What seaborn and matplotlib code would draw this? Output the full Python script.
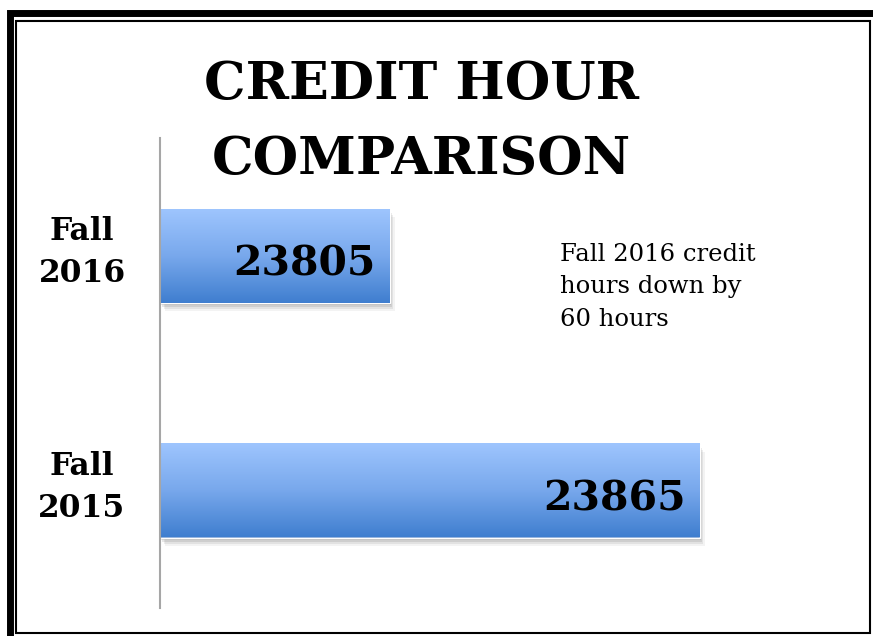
import matplotlib
matplotlib.use("Agg")
import matplotlib.pyplot as plt
import matplotlib.transforms as mtransforms
import numpy as np
import pandas as pd
import seaborn as sns
from matplotlib.colors import LinearSegmentedColormap
from matplotlib.patches import Rectangle

# data
categories = ["Fall 2016", "Fall 2015"]
credit_hours = [23805, 23865]
tick_labels = [c.replace(" ", "\n") for c in categories]

W, H = 873, 636


def fx(px):
    return px / W


def fy(py):
    return 1 - py / H


df = pd.DataFrame({"term": categories, "hours": credit_hours})

sns.set_theme(style="white")
plt.rcParams["font.family"] = ["DejaVu Serif"]
plt.rcParams["text.color"] = "black"
plt.rcParams["ytick.color"] = "black"

fig = plt.figure(figsize=(W / 100, H / 100), dpi=100)
fig.patch.set_facecolor("white")
ax = fig.add_axes([fx(160), fy(608), fx(860) - fx(160), fy(138) - fy(608)])

sns.barplot(data=df, x="hours", y="term", orient="h", width=0.4, color="#6fa0e6", ax=ax, zorder=2)
xlim = (23760.5, 23896)
ax.set_xlim(*xlim)
ax.set_ylim(1.5, -0.5)
ax.set_xlabel("")
ax.set_ylabel("")
ax.set_xticks([])
ax.set_yticks(range(len(categories)))
ax.set_yticklabels([])
ax.tick_params(axis="y", length=0)
for side in ["top", "right", "bottom"]:
    ax.spines[side].set_visible(False)
ax.spines["left"].set_color("#a6a6a6")
ax.spines["left"].set_linewidth(1.5)
ax.spines["left"].set_zorder(5)

# category labels, centred left of the axis line
for pos, lab in enumerate(tick_labels):
    ax.text(-0.1114, pos - 0.012, lab, transform=ax.get_yaxis_transform(), ha="center", va="center",
            fontsize=22.5, fontweight="bold", linespacing=1.45, clip_on=False)

# gradient fill + soft shadow for each bar
grad = LinearSegmentedColormap.from_list("bluegrad", ["#3f7ecf", "#78a8ec", "#9ec5fe"])
gradient = np.linspace(0, 1, 256).reshape(-1, 1)
left = xlim[0]
for bar, value in zip(ax.patches, credit_hours):
    y0, w, h = bar.get_y(), bar.get_width(), bar.get_height()
    x1 = bar.get_x() + w
    for k, a in [(0.08, 0.07), (0.06, 0.10), (0.04, 0.14), (0.02, 0.18)]:
        off = ax.transData + mtransforms.ScaledTranslation(k * 0.6, -k, fig.dpi_scale_trans)
        ax.add_patch(Rectangle((left, y0), x1 - left, h, transform=off,
                               facecolor="#555555", edgecolor="none", alpha=a, zorder=1))
    ax.imshow(gradient, cmap=grad, aspect="auto", extent=[left, x1, y0 + h, y0],
              origin="lower", zorder=3)
    ax.text(x1 - 2.8, y0 + h / 2 + 0.04, f"{value}", ha="right", va="center",
            fontsize=29.5, fontweight="bold", color="black", zorder=4)
ax.set_xlim(*xlim)
ax.set_ylim(1.5, -0.5)

fig.text(fx(421.5), fy(122), "CREDIT HOUR\nCOMPARISON", ha="center", va="center",
         fontsize=37.5, fontweight="bold", linespacing=1.6)

diff = credit_hours[1] - credit_hours[0]
fig.text(fx(560), fy(287), f"{categories[0]} credit\nhours down by\n{diff} hours",
         ha="left", va="center", fontsize=17.5, linespacing=1.55)

# double frame around the slide
fig.add_artist(Rectangle((fx(10), fy(640)), fx(880) - fx(10), fy(13) - fy(640),
                         transform=fig.transFigure, fill=False, edgecolor="black", linewidth=5))
fig.add_artist(Rectangle((fx(16), fy(633)), fx(870) - fx(16), fy(21) - fy(633),
                         transform=fig.transFigure, fill=False, edgecolor="black", linewidth=1.5))

fig.savefig("out.png", dpi=100)
